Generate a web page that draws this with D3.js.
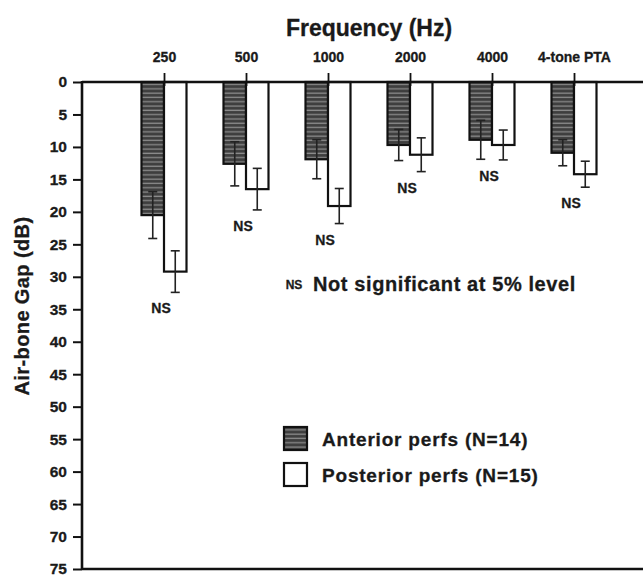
<!DOCTYPE html>
<html>
<head>
<meta charset="utf-8">
<script src="https://cdn.jsdelivr.net/npm/d3@7"></script>
<style>
  html, body { margin: 0; padding: 0; background: #fff; }
  svg { display: block; }
  text { font-family: "Liberation Sans", Arial, sans-serif; font-weight: bold; fill: #1a1a1a; stroke: #1a1a1a; stroke-width: 0.3px; }
</style>
</head>
<body>
<svg id="chart" width="643" height="576"></svg>
<script>
// ---- data ----
const categories = ["250", "500", "1000", "2000", "4000", "4-tone PTA"];
const seriesNames = ["Anterior perfs (N=14)", "Posterior perfs (N=15)"];
const anteriorMean = [20.5, 12.6, 11.9, 9.7, 8.9, 10.9];
const anteriorErr  = [3.6, 3.4, 3.0, 2.4, 3.0, 2.0];
const posteriorMean = [29.2, 16.5, 19.1, 11.2, 9.7, 14.2];
const posteriorErr  = [3.2, 3.2, 2.7, 2.6, 2.3, 2.0];
const nsLabels = ["NS", "NS", "NS", "NS", "NS", "NS"];
const yTicks = [0, 5, 10, 15, 20, 25, 30, 35, 40, 45, 50, 55, 60, 65, 70, 75];

(function () {
const svg = d3.select("#chart");
const W = 643;
const mLeft = 82, mTop = 82, mBottom = 569;

const y = d3.scaleLinear().domain([0, 75]).range([mTop, mBottom]);
const x = d3.scalePoint().domain(categories).range([164, 574]);
const x1 = d3.scaleBand().domain(["a", "p"]).range([-22.5, 22.5]).padding(0);

// pattern for anterior bars
const defs = svg.append("defs");
const pat = defs.append("pattern").attr("id", "stripes")
  .attr("patternUnits", "userSpaceOnUse").attr("width", 6).attr("height", 4.3);
pat.append("rect").attr("width", 6).attr("height", 4.3).attr("fill", "#3e3e3e");
pat.append("rect").attr("y", 2.2).attr("width", 6).attr("height", 1.3).attr("fill", "#8a8a8a");

// title
svg.append("text").attr("x", 369).attr("y", 36).attr("text-anchor", "middle")
  .style("font-size", "23px").text("Frequency (Hz)");

// y axis title
svg.append("text").attr("transform", "translate(29,306) rotate(-90)")
  .attr("text-anchor", "middle").style("font-size", "20px").style("letter-spacing", "0.4px")
  .text("Air-bone Gap (dB)");

// bars
const rows = categories.map((c, i) => ({
  c, i,
  bars: [
    { key: "a", v: anteriorMean[i], e: anteriorErr[i] },
    { key: "p", v: posteriorMean[i], e: posteriorErr[i] }
  ]
}));

const g = svg.append("g");
const grp = g.selectAll("g.grp").data(rows).join("g").attr("class", "grp")
  .attr("transform", d => `translate(${x(d.c)},0)`);

grp.selectAll("rect.bar").data(d => d.bars).join("rect").attr("class", "bar")
  .attr("x", d => x1(d.key))
  .attr("y", y(0))
  .attr("width", x1.bandwidth())
  .attr("height", d => y(d.v) - y(0))
  .attr("fill", d => d.key === "a" ? "url(#stripes)" : "#fff")
  .attr("stroke", "#111").attr("stroke-width", 2.2);

// error bars
const eb = grp.selectAll("g.err").data(d => d.bars).join("g").attr("class", "err")
  .attr("transform", d => `translate(${x1(d.key) + x1.bandwidth() / 2},0)`);
eb.append("line").attr("x1", 0).attr("x2", 0)
  .attr("y1", d => y(d.v - d.e)).attr("y2", d => y(d.v + d.e))
  .attr("stroke", "#222").attr("stroke-width", 1.6);
eb.append("line").attr("x1", -4.5).attr("x2", 4.5)
  .attr("y1", d => y(d.v - d.e)).attr("y2", d => y(d.v - d.e))
  .attr("stroke", "#222").attr("stroke-width", 1.6);
eb.append("line").attr("x1", -4.5).attr("x2", 4.5)
  .attr("y1", d => y(d.v + d.e)).attr("y2", d => y(d.v + d.e))
  .attr("stroke", "#222").attr("stroke-width", 1.6);

// NS labels
grp.append("text").attr("x", -3)
  .attr("y", d => y(d3.max(d.bars, b => b.v + b.e)) + 21)
  .attr("text-anchor", "middle").style("font-size", "14px")
  .text(d => nsLabels[d.i]);

// top axis
const xAxis = d3.axisTop(x).tickSize(9).tickPadding(11);
const xa = svg.append("g").attr("transform", `translate(0,${mTop})`).call(xAxis);
xa.select(".domain").remove();
xa.selectAll(".tick line").attr("stroke", "#111").attr("stroke-width", 1.8).attr("y2", -9).attr("y1", 4);
xa.selectAll(".tick text").style("font-size", "14px").attr("fill", "#1a1a1a")
  .style("font-family", "'Liberation Sans', Arial, sans-serif").style("font-weight", "bold");
svg.append("line").attr("x1", mLeft).attr("x2", W).attr("y1", mTop).attr("y2", mTop)
  .attr("stroke", "#111").attr("stroke-width", 2.6);

// left axis
const yAxis = d3.axisLeft(y).tickValues(yTicks).tickSize(9).tickPadding(6);
const ya = svg.append("g").attr("transform", `translate(${mLeft},0)`).call(yAxis);
ya.select(".domain").remove();
ya.selectAll(".tick line").attr("stroke", "#111").attr("stroke-width", 2);
ya.selectAll(".tick text").style("font-size", "15.5px").attr("fill", "#1a1a1a")
  .style("font-family", "'Liberation Sans', Arial, sans-serif").style("font-weight", "bold");
svg.append("line").attr("x1", mLeft).attr("x2", mLeft).attr("y1", mTop - 1).attr("y2", mBottom + 1)
  .attr("stroke", "#111").attr("stroke-width", 2.6);

// bottom line
svg.append("line").attr("x1", mLeft).attr("x2", W).attr("y1", mBottom).attr("y2", mBottom)
  .attr("stroke", "#111").attr("stroke-width", 2.6);

// NS note
svg.append("text").attr("x", 294).attr("y", 289).attr("text-anchor", "middle")
  .style("font-size", "12px").text("NS");
svg.append("text").attr("x", 313).attr("y", 291)
  .style("font-size", "20px").style("letter-spacing", "0.6px").text("Not significant at 5% level");

// legend
const leg = svg.append("g").attr("transform", "translate(284,427)");
const li = leg.selectAll("g").data(seriesNames).join("g")
  .attr("transform", (d, i) => `translate(0,${i * 36})`);
li.append("rect").attr("width", 23).attr("height", 23)
  .attr("fill", (d, i) => i === 0 ? "url(#stripes)" : "#fff")
  .attr("stroke", "#111").attr("stroke-width", 2.2);
li.append("text").attr("x", 38).attr("y", 19).style("font-size", "19px")
  .style("letter-spacing", "0.8px").text(d => d);
})();
</script>
</body>
</html>
